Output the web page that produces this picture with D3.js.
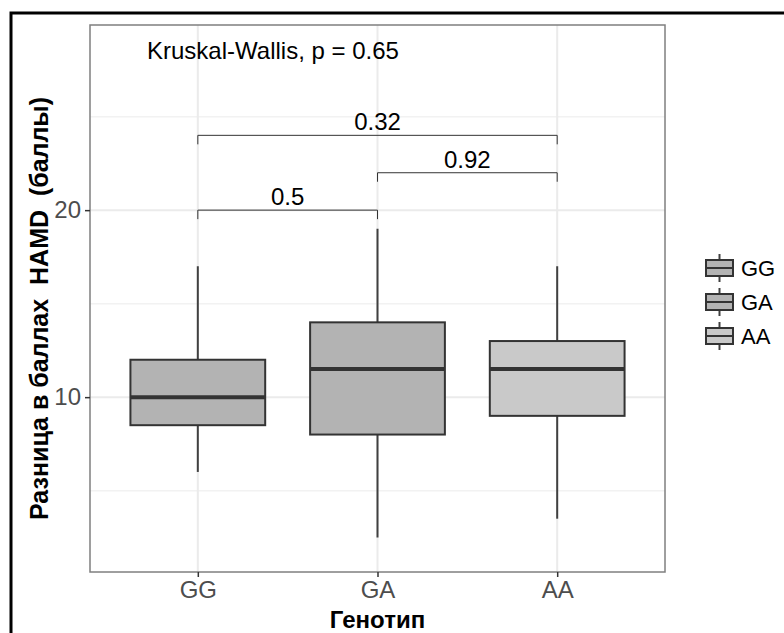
<!DOCTYPE html>
<html>
<head>
<meta charset="utf-8">
<script src="https://cdn.jsdelivr.net/npm/d3@7"></script>
<style>
  body { margin: 0; background: #fff; }
  svg text { font-family: "Liberation Sans", Arial, sans-serif; }
</style>
</head>
<body>
<div id="viz"></div>
<script>
// box stats per genotype
const genotypes = ["GG", "GA", "AA"];
const whiskerLow = [6, 2.5, 3.5];
const q1 = [8.5, 8, 9];
const medians = [10, 11.5, 11.5];
const q3 = [12, 14, 13];
const whiskerHigh = [17, 19, 17];
const fills = ["#b3b3b3", "#b3b3b3", "#c9c9c9"];

const yTicks = [10, 20];
const yMinor = [5, 15, 25];
const yDomain = [0.65, 29.9];

const comparisons = [
    { from: "GG", to: "GA", y: 20, label: "0.5" },
    { from: "GA", to: "AA", y: 22, label: "0.92" },
    { from: "GG", to: "AA", y: 24, label: "0.32" }
];
const globalTest = "Kruskal-Wallis, p = 0.65";

const W = 784, H = 633;
const panel = { left: 90, top: 25, right: 665, bottom: 572 };

const svg = d3.select("#viz").append("svg")
    .attr("width", W)
    .attr("height", H);

// outer frame (only top + left visible in the crop)
svg.append("rect")
    .attr("x", 11).attr("y", 13)
    .attr("width", 900).attr("height", 900)
    .attr("fill", "none")
    .attr("stroke", "#000")
    .attr("stroke-width", 3);

const x = d3.scalePoint()
    .domain(genotypes)
    .range([panel.left, panel.right])
    .padding(0.6);
const step = x.step();
const boxW = step * 0.75;

const y = d3.scaleLinear()
    .domain(yDomain)
    .range([panel.bottom, panel.top]);

const grid = svg.append("g");
yMinor.forEach(v => {
    grid.append("line")
        .attr("x1", panel.left).attr("x2", panel.right)
        .attr("y1", y(v)).attr("y2", y(v))
        .attr("stroke", "#f2f2f2").attr("stroke-width", 1.5);
});
yTicks.forEach(v => {
    grid.append("line")
        .attr("x1", panel.left).attr("x2", panel.right)
        .attr("y1", y(v)).attr("y2", y(v))
        .attr("stroke", "#ebebeb").attr("stroke-width", 2);
});
genotypes.forEach(g => {
    grid.append("line")
        .attr("x1", x(g)).attr("x2", x(g))
        .attr("y1", panel.top).attr("y2", panel.bottom)
        .attr("stroke", "#ebebeb").attr("stroke-width", 2);
});

// boxes
const boxes = svg.append("g").selectAll("g")
    .data(genotypes)
    .enter().append("g");

boxes.append("line")
    .attr("x1", g => x(g)).attr("x2", g => x(g))
    .attr("y1", (g, i) => y(whiskerLow[i]))
    .attr("y2", (g, i) => y(whiskerHigh[i]))
    .attr("stroke", "#404040").attr("stroke-width", 2);

boxes.append("rect")
    .attr("x", g => x(g) - boxW / 2)
    .attr("width", boxW)
    .attr("y", (g, i) => y(q3[i]))
    .attr("height", (g, i) => y(q1[i]) - y(q3[i]))
    .attr("fill", (g, i) => fills[i])
    .attr("stroke", "#333").attr("stroke-width", 2);

boxes.append("line")
    .attr("x1", g => x(g) - boxW / 2).attr("x2", g => x(g) + boxW / 2)
    .attr("y1", (g, i) => y(medians[i]))
    .attr("y2", (g, i) => y(medians[i]))
    .attr("stroke", "#333").attr("stroke-width", 4);

// pairwise brackets
const tip = 9;
const br = svg.append("g");
comparisons.forEach(c => {
    const x1 = x(c.from), x2 = x(c.to), yy = y(c.y);
    br.append("path")
        .attr("d", `M${x1},${yy + tip}V${yy}H${x2}V${yy + tip}`)
        .attr("fill", "none")
        .attr("stroke", "#333").attr("stroke-width", 1);
    br.append("text")
        .attr("x", (x1 + x2) / 2)
        .attr("y", yy - 5)
        .attr("text-anchor", "middle")
        .attr("font-size", 24)
        .attr("fill", "#000")
        .text(c.label);
});

svg.append("text")
    .attr("x", 147).attr("y", 59)
    .attr("font-size", 24)
    .attr("fill", "#000")
    .text(globalTest);

// panel border
svg.append("rect")
    .attr("x", panel.left).attr("y", panel.top)
    .attr("width", panel.right - panel.left)
    .attr("height", panel.bottom - panel.top)
    .attr("fill", "none")
    .attr("stroke", "#7f7f7f").attr("stroke-width", 1.5);

// axes
const xAxis = svg.append("g")
    .attr("transform", `translate(0,${panel.bottom})`)
    .call(d3.axisBottom(x).tickSize(5).tickPadding(4));
const yAxis = svg.append("g")
    .attr("transform", `translate(${panel.left},0)`)
    .call(d3.axisLeft(y).tickValues(yTicks).tickSize(5).tickPadding(4));
[xAxis, yAxis].forEach(a => {
    a.select(".domain").remove();
    a.selectAll(".tick line").attr("stroke", "#333").attr("stroke-width", 1.5);
    a.selectAll(".tick text")
        .attr("fill", "#4d4d4d")
        .attr("font-size", 24)
        .attr("font-family", "Liberation Sans, Arial, sans-serif");
});

svg.append("text")
    .attr("x", (panel.left + panel.right) / 2)
    .attr("y", 628)
    .attr("text-anchor", "middle")
    .attr("font-size", 24)
    .attr("font-weight", "bold")
    .text("Генотип");

svg.append("text")
    .attr("transform", `translate(48,${(panel.top + panel.bottom) / 2 + 10}) rotate(-90)`)
    .attr("text-anchor", "middle")
    .attr("font-size", 25)
    .attr("font-weight", "bold")
    .style("white-space", "pre")
    .text("Разница в баллах  HAMD  (баллы)");

// legend
const legend = svg.append("g").attr("transform", "translate(706,254)");
const keyStep = 34;
genotypes.forEach((g, i) => {
    const k = legend.append("g").attr("transform", `translate(0,${i * keyStep})`);
    k.append("line")
        .attr("x1", 13.5).attr("x2", 13.5).attr("y1", 0).attr("y2", 28)
        .attr("stroke", "#404040").attr("stroke-width", 2);
    k.append("rect")
        .attr("x", 0).attr("y", 6).attr("width", 27).attr("height", 16)
        .attr("fill", fills[i]).attr("stroke", "#333").attr("stroke-width", 2);
    k.append("line")
        .attr("x1", 0).attr("x2", 27).attr("y1", 14).attr("y2", 14)
        .attr("stroke", "#333").attr("stroke-width", 2);
    k.append("text")
        .attr("x", 35).attr("y", 22)
        .attr("font-size", 22)
        .attr("fill", "#000")
        .text(g);
});
</script>
</body>
</html>
